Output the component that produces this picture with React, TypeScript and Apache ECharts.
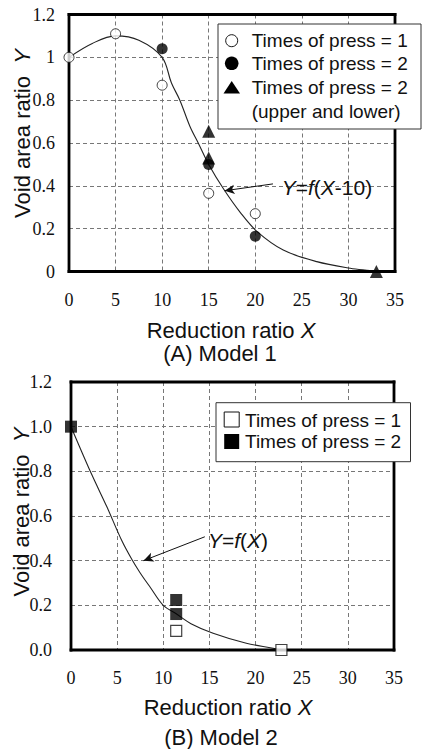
import React, { useEffect, useRef } from "react";
import * as echarts from "echarts";

// ---- Data: Model 1 ----
const m1Press1: [number, number][] = [[0, 1.0], [5, 1.11], [10, 0.87], [15, 0.365], [20, 0.27]];
const m1Press2: [number, number][] = [[10, 1.04], [15, 0.5], [20, 0.165]];
const m1Press2UL: [number, number][] = [[15, 0.655], [15, 0.53], [33, 0.0]];
const m1Curve: [number, number][] = [
  [0, 1.0], [2.5, 1.065], [5, 1.1], [7.5, 1.08], [10, 1.0], [11, 0.88], [11.9, 0.8],
  [13, 0.676], [13.9, 0.598], [15, 0.5], [16.6, 0.385], [18.4, 0.275], [20.2, 0.186],
  [23, 0.1], [26.6, 0.046], [30.2, 0.015], [32.3, 0.004], [33, 0.0],
];
const m1Arrow: [number, number][] = [[21.9, 0.409], [16.7, 0.377]];

// ---- Data: Model 2 ----
const m2Press1: [number, number][] = [[11.4, 0.086], [22.8, 0.0]];
const m2Press2: [number, number][] = [[0, 1.0], [11.4, 0.224], [11.4, 0.161]];
const m2Curve: [number, number][] = [
  [0, 1.0], [2.2, 0.79], [3.9, 0.64], [5.5, 0.49], [6.6, 0.405], [7.5, 0.345], [8.6, 0.28],
  [10, 0.2], [11.4, 0.162], [13, 0.118], [15.4, 0.075], [19, 0.03], [21.9, 0.008], [22.8, 0.0],
];
const m2Arrow: [number, number][] = [[14.5, 0.507], [7.85, 0.4]];

// ---- Axes ----
const xMin = 0, xMax = 35, xStep = 5;
const yMin = 0, yMax = 1.2, yStep = 0.2;
const yLabelsA = ["0", "0.2", "0.4", "0.6", "0.8", "1", "1.2"];
const yLabelsB = ["0.0", "0.2", "0.4", "0.6", "0.8", "1.0", "1.2"];

const legendA = ["Times of press = 1", "Times of press = 2", "Times of press = 2", "(upper and lower)"];
const legendB = ["Times of press = 1", "Times of press = 2"];

const SANS = "'Liberation Sans', Arial, sans-serif";
const SERIF = "'Liberation Serif', 'Times New Roman', serif";
const INK = "#111";

const GRID_A = { left: 69, top: 14.5, width: 326, height: 257 };
const GRID_B = { left: 71, top: 382, width: 323, height: 268 };

function splitLine() {
  return { show: true, showMinLine: false, showMaxLine: false, lineStyle: { color: "#777", type: [4, 3], width: 1 } };
}

function xAxis(gridIndex: number) {
  return {
    type: "value", gridIndex, min: xMin, max: xMax, interval: xStep,
    axisLine: { show: false }, axisTick: { show: false },
    axisLabel: { margin: 19, fontFamily: SERIF, fontSize: 18, color: INK },
    splitLine: splitLine(),
  };
}
function yAxis(gridIndex: number, labels: string[], margin: number) {
  return {
    type: "value", gridIndex, min: yMin, max: yMax, interval: yStep,
    axisLine: { show: false }, axisTick: { show: false },
    axisLabel: {
      margin, fontFamily: SERIF, fontSize: 18, color: INK,
      formatter: (v: number) => labels[Math.round((v - yMin) / yStep)] ?? String(v),
    },
    splitLine: splitLine(),
  };
}

const curveStyle = { color: "#222", width: 1.1 };
function arrowLine(pts: [number, number][]) {
  return {
    silent: true, animation: false, symbol: ["none", "arrow"], symbolSize: [7, 10],
    label: { show: false }, lineStyle: { color: "#111", width: 1, type: "solid" },
    data: [[{ coord: pts[0] }, { coord: pts[1] }]],
  };
}

const richItalic = { i: { fontStyle: "italic", fontFamily: SANS, fontSize: 22, fill: INK } };

function text(x: number, y: number, t: string, size: number, extra: any = {}) {
  return {
    type: "text", x, y, z: 100,
    style: {
      text: t, fontFamily: SANS, fontSize: size, fill: INK,
      align: "center", verticalAlign: "middle", ...extra,
    },
  };
}
// Frame drawn as four filled bars (thickness t) around the plot area
function frame(g: { left: number; top: number; width: number; height: number }) {
  const t = 2.8, h = t / 2;
  const bar = (x: number, y: number, w: number, hh: number) => ({
    type: "rect", z: 4, silent: true, shape: { x, y, width: w, height: hh }, style: { fill: "#000" },
  });
  return [
    bar(g.left - h, g.top - h, g.width + t, t),
    bar(g.left - h, g.top + g.height - h, g.width + t, t),
    bar(g.left - h, g.top - h, t, g.height + t),
    bar(g.left + g.width - h, g.top - h, t, g.height + t),
  ];
}

export default function App() {
  const ref = useRef<HTMLDivElement>(null);
  useEffect(() => {
    document.body.style.margin = "0";
    const chart = echarts.init(ref.current!, null, { renderer: "svg" });
    const option: any = {
      animation: false,
      backgroundColor: "#fff",
      grid: [GRID_A, GRID_B],
      xAxis: [xAxis(0), xAxis(1)],
      yAxis: [yAxis(0, yLabelsA, 14), yAxis(1, yLabelsB, 19)],
      series: [
        {
          type: "line", xAxisIndex: 0, yAxisIndex: 0, data: m1Curve, smooth: 0.35,
          showSymbol: false, lineStyle: curveStyle, z: 3, markLine: arrowLine(m1Arrow),
        },
        {
          name: "A press 1", type: "scatter", xAxisIndex: 0, yAxisIndex: 0, data: m1Press1,
          symbol: "circle", symbolSize: 10, clip: false, z: 10,
          itemStyle: { color: "#fff", borderColor: "#111", borderWidth: 1 },
        },
        {
          name: "A press 2", type: "scatter", xAxisIndex: 0, yAxisIndex: 0, data: m1Press2,
          symbol: "circle", symbolSize: 11, clip: false, z: 10, itemStyle: { color: "#000" },
        },
        {
          name: "A press 2 UL", type: "scatter", xAxisIndex: 0, yAxisIndex: 0, data: m1Press2UL,
          symbol: "triangle", symbolSize: [13, 13], clip: false, z: 10, itemStyle: { color: "#000" },
        },
        {
          type: "line", xAxisIndex: 1, yAxisIndex: 1, data: m2Curve, smooth: 0.35,
          showSymbol: false, lineStyle: curveStyle, z: 3, markLine: arrowLine(m2Arrow),
        },
        {
          name: "B press 1", type: "scatter", xAxisIndex: 1, yAxisIndex: 1, data: m2Press1,
          symbol: "rect", symbolSize: 11, clip: false, z: 10,
          itemStyle: { color: "#fff", borderColor: "#111", borderWidth: 1.2 },
        },
        {
          name: "B press 2", type: "scatter", xAxisIndex: 1, yAxisIndex: 1, data: m2Press2,
          symbol: "rect", symbolSize: 12, clip: false, z: 10, itemStyle: { color: "#000" },
        },
      ],
      graphic: [
        ...frame(GRID_A),
        ...frame(GRID_B),
        // Legend A
        { type: "rect", z: 90, shape: { x: 218, y: 24, width: 203, height: 105 }, style: { fill: "#fff", stroke: "#333", lineWidth: 1 } },
        { type: "circle", z: 95, shape: { cx: 231.7, cy: 40.7, r: 6 }, style: { fill: "#fff", stroke: "#111", lineWidth: 1 } },
        { type: "circle", z: 95, shape: { cx: 231.7, cy: 63.3, r: 6.8 }, style: { fill: "#000" } },
        { type: "polygon", z: 95, shape: { points: [[223.5, 93.5], [240, 93.5], [231.7, 81]] }, style: { fill: "#000" } },
        text(251.7, 40.7, legendA[0], 19, { align: "left" }),
        text(251.7, 63.8, legendA[1], 19, { align: "left" }),
        text(251.7, 87.7, legendA[2], 19, { align: "left" }),
        text(251.7, 111.5, legendA[3], 19, { align: "left" }),
        // Legend B
        { type: "rect", z: 90, shape: { x: 216, y: 402.7, width: 194.5, height: 59 }, style: { fill: "#fff", stroke: "#333", lineWidth: 1 } },
        { type: "rect", z: 95, shape: { x: 224.2, y: 412, width: 15, height: 15 }, style: { fill: "#fff", stroke: "#111", lineWidth: 1 } },
        { type: "rect", z: 95, shape: { x: 224.2, y: 434, width: 15, height: 15 }, style: { fill: "#000" } },
        text(245, 420, legendB[0], 19, { align: "left" }),
        text(245, 441.7, legendB[1], 19, { align: "left" }),
        // Curve labels
        text(281.7, 187, "{i|Y}={i|f}({i|X}-10)", 21, { align: "left", rich: { i: { ...richItalic.i, fontSize: 21 } } }),
        text(208, 540, "{i|Y}={i|f}({i|X})", 21, { align: "left", rich: { i: { ...richItalic.i, fontSize: 21 } } }),
        // Axis titles A
        text(231, 330, "Reduction ratio {i|X}", 22, { rich: richItalic }),
        text(220, 353, "(A) Model 1", 22),
        { ...text(22, 133.5, "Void area ratio  {i|Y}", 22, { rich: richItalic }), rotation: Math.PI / 2 },
        // Axis titles B
        text(228, 707, "Reduction ratio {i|X}", 22, { rich: richItalic }),
        text(221, 737, "(B) Model 2", 22),
        { ...text(21.5, 512, "Void area ratio  {i|Y}", 22, { rich: richItalic }), rotation: Math.PI / 2 },
      ],
    };
    chart.setOption(option);
    return () => chart.dispose();
  }, []);
  return <div ref={ref} style={{ width: 423, height: 749 }} />;
}
